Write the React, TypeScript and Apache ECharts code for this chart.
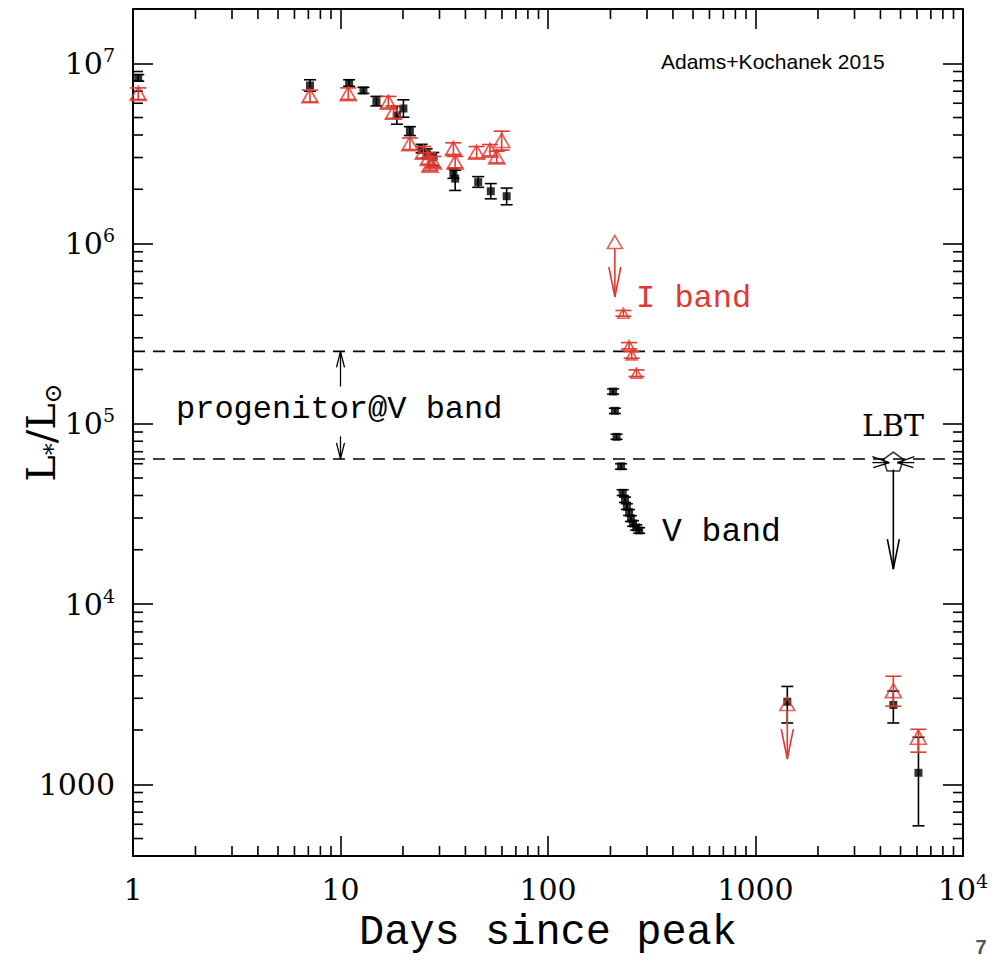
import React, { useEffect, useRef } from 'react';
import * as echarts from 'echarts';

const RED = '#e0392f';
const BLACK = '#000000';
const SERIF = '"DejaVu Serif", serif';
const MONO = '"Liberation Mono", monospace';
const SANS = '"Liberation Sans", Arial, sans-serif';

// ---- axes ----
const xRange = [1, 10000];
const yRange = [400, 2e7];
const xTickValues = [1, 10, 100, 1000, 10000];
const xTickLabels = ['1', '10', '100', '1000', '10^4'];
const yTickValues = [1000, 1e4, 1e5, 1e6, 1e7];
const yTickLabels = ['1000', '10^4', '10^5', '10^6', '10^7'];
const xMinorTicks = [2, 3, 4, 5, 6, 7, 8, 9, 20, 30, 40, 50, 60, 70, 80, 90, 200, 300, 400, 500, 600, 700, 800, 900, 2000, 3000, 4000, 5000, 6000, 7000, 8000, 9000];
const yMinorTicks = [500, 600, 700, 800, 900, 2000, 3000, 4000, 5000, 6000, 7000, 8000, 9000, 2e4, 3e4, 4e4, 5e4, 6e4, 7e4, 8e4, 9e4, 2e5, 3e5, 4e5, 5e5, 6e5, 7e5, 8e5, 9e5, 2e6, 3e6, 4e6, 5e6, 6e6, 7e6, 8e6, 9e6];

// ---- V band (black squares) ----
const vDays = [1.06, 7.13, 11.0, 12.9, 14.9, 18.7, 20.1, 21.6, 24.6, 26.0, 28.0, 35.0, 35.7, 46.1, 53.0, 63.2, 206, 210, 214, 225, 229, 235, 240, 246, 251, 257, 266, 275, 1423, 4616, 6100];
const vLum = [8.3e6, 7.53e6, 7.78e6, 7.07e6, 6.16e6, 5.14e6, 5.61e6, 4.21e6, 3.36e6, 3.16e6, 3.02e6, 2.44e6, 2.29e6, 2.19e6, 1.95e6, 1.83e6, 1.51e5, 1.18e5, 8.46e4, 5.81e4, 4.14e4, 3.79e4, 3.47e4, 3.22e4, 2.98e4, 2.80e4, 2.66e4, 2.56e4, 2871, 2754, 1158];
const vLow = [7.95e6, 7.0e6, 7.45e6, 6.8e6, 5.8e6, 4.59e6, 5.02e6, 3.97e6, 3.18e6, 2.98e6, 2.7e6, 2.3e6, 1.97e6, 2.05e6, 1.77e6, 1.64e6, 1.46e5, 1.14e5, 8.2e4, 5.6e4, 4.0e4, 3.66e4, 3.35e4, 3.1e4, 2.87e4, 2.7e4, 2.57e4, 2.47e4, 2188, 2188, 588];
const vHigh = [8.65e6, 8.1e6, 8.1e6, 7.35e6, 6.55e6, 5.76e6, 6.27e6, 4.45e6, 3.55e6, 3.35e6, 3.2e6, 2.6e6, 2.55e6, 2.35e6, 2.15e6, 2.03e6, 1.56e5, 1.22e5, 8.75e4, 6.0e4, 4.3e4, 3.92e4, 3.6e4, 3.34e4, 3.09e4, 2.9e4, 2.75e4, 2.65e4, 3490, 3290, 1824];

// ---- I band (red open triangles) ----
const iDays = [1.06, 7.13, 10.9, 17.0, 18.0, 21.6, 25.1, 26.5, 27.0, 28.0, 35.0, 35.7, 45.3, 52.5, 56.6, 59.8, 231, 246, 253, 267, 4616, 6092];
const iLum = [6.8e6, 6.6e6, 6.78e6, 6.08e6, 5.36e6, 3.58e6, 3.21e6, 2.96e6, 2.72e6, 2.83e6, 3.36e6, 2.83e6, 3.21e6, 3.29e6, 3.02e6, 3.73e6, 4.1e5, 2.71e5, 2.41e5, 1.91e5, 3306, 1824];
const iLow = [6.3e6, 6.1e6, 6.3e6, 5.65e6, 4.95e6, 3.32e6, 2.98e6, 2.75e6, 2.53e6, 2.63e6, 3.12e6, 2.63e6, 2.98e6, 3.06e6, 2.8e6, 3.3e6, 3.95e5, 2.6e5, 2.31e5, 1.83e5, 2710, 1507];
const iHigh = [7.3e6, 7.1e6, 7.3e6, 6.55e6, 5.8e6, 3.85e6, 3.45e6, 3.18e6, 2.93e6, 3.04e6, 3.62e6, 3.04e6, 3.45e6, 3.54e6, 3.25e6, 4.2e6, 4.25e5, 2.82e5, 2.51e5, 1.99e5, 3974, 2018];

// ---- I band upper limits ----
const ulDays = [210, 1423];
const ulLum = [1.02e6, 2786];
const ulArrowTo = [5.05e5, 1380];

// ---- LBT upper limit ----
const lbtDays = [4616];
const lbtLum = [6.17e4];
const lbtArrowTo = [1.56e4];

// ---- progenitor @ V band ----
const progenitorLevels = [2.52e5, 6.38e4];
const progArrowDay = 10;
const progArrowFrom = [1.61e5, 8.51e4];

const richLabel = (s: string) => {
  const [b, e] = s.split('^');
  return e ? `{n|${b}}{e|${e}}` : `{n|${b}}`;
};
const makeFmt = (values: number[], labels: string[]) => (v: number) => {
  const i = values.findIndex((t) => Math.abs(t - v) / t < 1e-6);
  return i < 0 ? '' : richLabel(labels[i]);
};
const labelRich = {
  n: { fontFamily: SERIF, fontSize: 30, color: BLACK, lineHeight: 36 },
  e: { fontFamily: SERIF, fontSize: 19, color: BLACK, lineHeight: 25, verticalAlign: 'top' },
};

const axisCommon = {
  type: 'log',
  logBase: 10,
  axisLine: { show: true, onZero: false, lineStyle: { color: BLACK, width: 2 } },
  axisTick: { show: true, inside: true, length: 20, lineStyle: { color: BLACK, width: 1.6 } },
  splitLine: { show: false },
  minorTick: { show: false },
  minorSplitLine: { show: false },
  nameMoveOverlap: false,
};

const errRender = (color: string, capHalf: number) => (params: any, api: any) => {
  const x = api.value(0);
  const lo = api.coord([x, api.value(1)]);
  const hi = api.coord([x, api.value(2)]);
  const st = { stroke: color, lineWidth: 1.6, fill: 'none' };
  return {
    type: 'group',
    silent: true,
    children: [
      { type: 'line', shape: { x1: lo[0], y1: lo[1], x2: hi[0], y2: hi[1] }, style: st },
      { type: 'line', shape: { x1: lo[0] - capHalf, y1: lo[1], x2: lo[0] + capHalf, y2: lo[1] }, style: st },
      { type: 'line', shape: { x1: hi[0] - capHalf, y1: hi[1], x2: hi[0] + capHalf, y2: hi[1] }, style: st },
    ],
  };
};

const arrowRender = (color: string, headLen: number, headHalf: number, startOffset: number, lw: number) => (params: any, api: any) => {
  const x = api.value(0);
  const p0 = api.coord([x, api.value(1)]);
  const p1 = api.coord([x, api.value(2)]);
  const dir = p1[1] > p0[1] ? 1 : -1;
  const st = { stroke: color, lineWidth: lw, fill: 'none' };
  return {
    type: 'group',
    silent: true,
    children: [
      { type: 'line', shape: { x1: p0[0], y1: p0[1] + dir * startOffset, x2: p1[0], y2: p1[1] }, style: st },
      {
        type: 'polyline',
        shape: { points: [[p1[0] - headHalf, p1[1] - dir * headLen], [p1[0], p1[1]], [p1[0] + headHalf, p1[1] - dir * headLen]] },
        style: st,
      },
    ],
  };
};

const lbtWhiskers = (params: any, api: any) => {
  const p = api.coord([api.value(0), api.value(1)]);
  const st = { stroke: BLACK, lineWidth: 1.3, fill: 'none' };
  const ch: any[] = [];
  [-1, 1].forEach((s) => {
    ch.push({ type: 'line', shape: { x1: p[0] + s * 4, y1: p[1] + 1, x2: p[0] + s * 21, y2: p[1] - 5 }, style: st });
    ch.push({ type: 'line', shape: { x1: p[0] + s * 4, y1: p[1] + 1, x2: p[0] + s * 21, y2: p[1] + 1 }, style: st });
    ch.push({ type: 'line', shape: { x1: p[0] + s * 4, y1: p[1] + 1, x2: p[0] + s * 20, y2: p[1] + 6 }, style: st });
  });
  return { type: 'group', silent: true, children: ch };
};

const xMinorRender = (params: any, api: any) => {
  const cs = params.coordSys;
  const px = api.coord([api.value(0), 1000])[0];
  const st = { stroke: BLACK, lineWidth: 1.6 };
  return {
    type: 'group',
    silent: true,
    children: [
      { type: 'line', shape: { x1: px, y1: cs.y + cs.height, x2: px, y2: cs.y + cs.height - 10 }, style: st },
      { type: 'line', shape: { x1: px, y1: cs.y, x2: px, y2: cs.y + 10 }, style: st },
    ],
  };
};
const yMinorRender = (params: any, api: any) => {
  const cs = params.coordSys;
  const py = api.coord([10, api.value(1)])[1];
  const st = { stroke: BLACK, lineWidth: 1.6 };
  return {
    type: 'group',
    silent: true,
    children: [
      { type: 'line', shape: { x1: cs.x, y1: py, x2: cs.x + 10, y2: py }, style: st },
      { type: 'line', shape: { x1: cs.x + cs.width, y1: py, x2: cs.x + cs.width - 10, y2: py }, style: st },
    ],
  };
};

const textEl = (text: string, x: number, y: number, font: string, fill: string, align = 'left') => ({
  type: 'text',
  x,
  y,
  silent: true,
  style: { text, font, fill, align, verticalAlign: 'middle', textAlign: align, textVerticalAlign: 'middle' },
});

export default function App() {
  const ref = useRef<HTMLDivElement>(null);
  useEffect(() => {
    document.body.style.margin = '0';
    const chart = echarts.init(ref.current!, null, { renderer: 'svg' });
    const option: any = {
      animation: false,
      backgroundColor: '#ffffff',
      grid: { left: 133, top: 9, width: 830, height: 847, containLabel: false, outerBoundsMode: 'none' },
      xAxis: [
        {
          ...axisCommon,
          min: xRange[0],
          max: xRange[1],
          position: 'bottom',
          axisLabel: { show: true, margin: 15, formatter: makeFmt(xTickValues, xTickLabels), rich: labelRich, showMinLabel: true, showMaxLabel: true },
          name: 'Days since peak',
          nameLocation: 'middle',
          nameGap: 56,
          nameTextStyle: { fontFamily: MONO, fontSize: 42, color: BLACK },
        },
        { ...axisCommon, min: xRange[0], max: xRange[1], position: 'top', axisLabel: { show: false } },
      ],
      yAxis: [
        {
          ...axisCommon,
          min: yRange[0],
          max: yRange[1],
          position: 'left',
          axisLabel: { show: true, margin: 18, formatter: makeFmt(yTickValues, yTickLabels), rich: labelRich },
          name: '{L|L}{s|*}{L|/L}{s|⊙}',
          nameLocation: 'middle',
          nameRotate: 90,
          nameGap: 68,
          nameTextStyle: {
            rich: {
              L: { fontFamily: SERIF, fontSize: 40, color: BLACK, lineHeight: 48 },
              s: { fontFamily: SERIF, fontSize: 24, color: BLACK, lineHeight: 28, verticalAlign: 'bottom' },
            },
          },
        },
        { ...axisCommon, min: yRange[0], max: yRange[1], position: 'right', axisLabel: { show: false } },
      ],
      series: [
        { type: 'custom', renderItem: xMinorRender, data: xMinorTicks.map((v) => [v, 1000]), encode: { x: 0, y: 1 }, silent: true, z: 1 },
        { type: 'custom', renderItem: yMinorRender, data: yMinorTicks.map((v) => [10, v]), encode: { x: 0, y: 1 }, silent: true, z: 1 },
        {
          type: 'line',
          data: [[xRange[0], progenitorLevels[0]], [xRange[1], progenitorLevels[0]]],
          showSymbol: false,
          symbol: 'none',
          lineStyle: { color: BLACK, width: 1.6, type: [12, 8] },
          silent: true,
          z: 2,
        },
        {
          type: 'line',
          data: [[xRange[0], progenitorLevels[1]], [xRange[1], progenitorLevels[1]]],
          showSymbol: false,
          symbol: 'none',
          lineStyle: { color: BLACK, width: 1.6, type: [12, 8] },
          silent: true,
          z: 2,
        },
        {
          type: 'custom',
          renderItem: arrowRender(BLACK, 16, 4, 0, 1.3),
          data: progenitorLevels.map((lv, i) => [progArrowDay, progArrowFrom[i], lv]),
          encode: { x: 0, y: [1, 2] },
          silent: true,
          z: 3,
        },
        {
          type: 'custom',
          renderItem: errRender(BLACK, 6),
          data: vDays.map((d, i) => [d, vLow[i], vHigh[i]]),
          encode: { x: 0, y: [1, 2] },
          silent: true,
          z: 4,
        },
        {
          type: 'scatter',
          data: vDays.map((d, i) => [d, vLum[i]]),
          symbol: 'rect',
          symbolSize: 8,
          itemStyle: { color: BLACK },
          silent: true,
          z: 5,
        },
        {
          type: 'custom',
          renderItem: errRender(RED, 8),
          data: iDays.map((d, i) => [d, iLow[i], iHigh[i]]),
          encode: { x: 0, y: [1, 2] },
          silent: true,
          z: 6,
        },
        {
          type: 'scatter',
          data: iDays.map((d, i) => [d, iLum[i]]),
          symbol: 'triangle',
          symbolSize: (v: number[]) => (v[0] > 150 && v[0] < 400 ? [11, 10] : [16, 14]),
          itemStyle: { color: 'rgba(255,255,255,0)', borderColor: RED, borderWidth: 1.7 },
          silent: true,
          z: 7,
        },
        {
          type: 'scatter',
          data: ulDays.map((d, i) => [d, ulLum[i]]),
          symbol: 'triangle',
          symbolSize: [15, 13],
          itemStyle: { color: 'rgba(255,255,255,0)', borderColor: RED, borderWidth: 1.6 },
          silent: true,
          z: 7,
        },
        {
          type: 'custom',
          renderItem: arrowRender(RED, 30, 6, 7, 1.6),
          data: ulDays.map((d, i) => [d, ulLum[i], ulArrowTo[i]]),
          encode: { x: 0, y: [1, 2] },
          silent: true,
          z: 7,
        },
        {
          type: 'custom',
          renderItem: arrowRender(BLACK, 30, 6, 8, 1.6),
          data: lbtDays.map((d, i) => [d, lbtLum[i], lbtArrowTo[i]]),
          encode: { x: 0, y: [1, 2] },
          silent: true,
          z: 8,
        },
        {
          type: 'custom',
          renderItem: lbtWhiskers,
          data: lbtDays.map((d, i) => [d, lbtLum[i]]),
          encode: { x: 0, y: 1 },
          silent: true,
          z: 8,
        },
        {
          type: 'scatter',
          data: lbtDays.map((d, i) => [d, lbtLum[i]]),
          symbol: 'path://M10,0 L19.5,6.9 L15.9,18.1 L4.1,18.1 L0.5,6.9 Z',
          symbolSize: [20, 19],
          itemStyle: { color: 'rgba(255,255,255,0)', borderColor: BLACK, borderWidth: 1.5 },
          silent: true,
          z: 9,
        },
      ],
      graphic: [
        textEl('Adams+Kochanek 2015', 661, 61, `21px ${SANS}`, BLACK),
        textEl('progenitor@V band', 176, 409, `32px ${MONO}`, BLACK),
        textEl('I band', 636, 298, `32px ${MONO}`, RED),
        textEl('V band', 662, 532, `33px ${MONO}`, BLACK),
        textEl('LBT', 862, 425, `30px ${SERIF}`, BLACK),
        textEl('7', 981, 947, `bold 20px ${SANS}`, '#555555', 'center'),
      ],
    };
    chart.setOption(option);
    return () => chart.dispose();
  }, []);
  return <div ref={ref} style={{ position: 'absolute', left: 0, top: 0, width: 994, height: 961 }} />;
}
